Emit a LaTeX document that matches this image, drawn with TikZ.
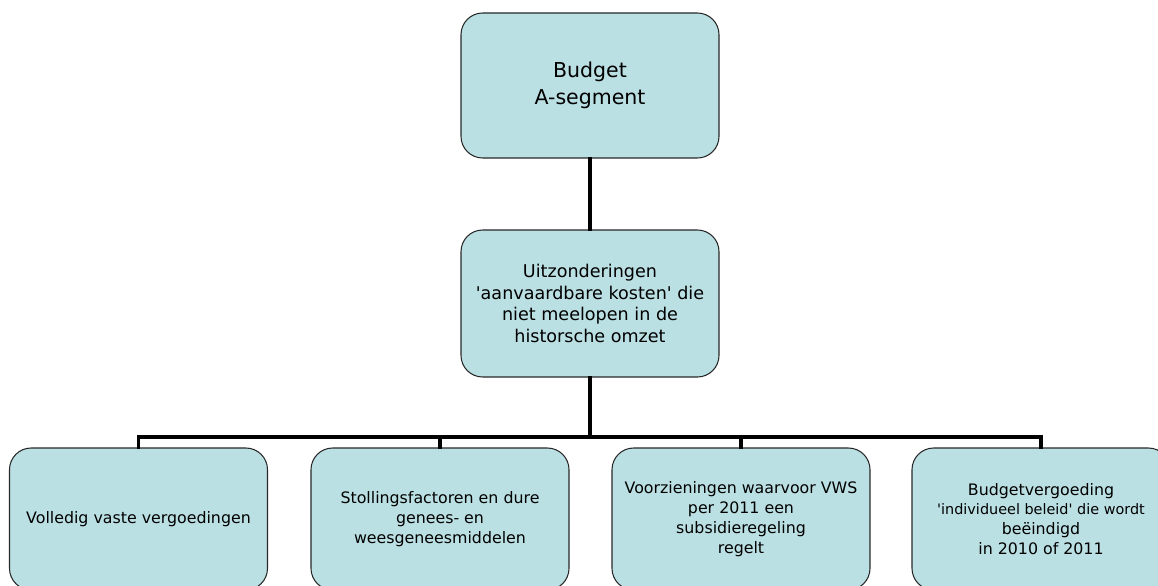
\documentclass[tikz,border=0pt]{standalone}
\usepackage{fontspec}
\setmainfont{DejaVu Sans}
\definecolor{boxblue}{RGB}{187,224,227}
\definecolor{boxline}{RGB}{40,40,40}
\newcommand{\sq}{\textquotesingle}
\tikzset{
    box/.style={draw=boxline, fill=boxblue, line width=0.9pt, rounded corners=0.65cm,
        minimum width=7.74cm, align=center, inner sep=2pt},
    bus/.style={line width=3.2pt, line cap=rect}
}
\begin{document}
\begin{tikzpicture}[x=0.03cm, y=-0.03cm]
            \clip (0,0) rectangle (1158,585);
            \useasboundingbox (0,0) rectangle (1158,585);

            \node[box, minimum height=4.35cm, font=\fontsize{17.5}{23}\selectfont] (top) at (590,85.5) {Budget\\A-segment};
            \node[box, minimum height=4.41cm, font=\fontsize{15}{18.5}\selectfont] (mid) at (590,303.5)
                {Uitzonderingen\\\sq aanvaardbare kosten\sq{} die\\niet meelopen in de\\historsche omzet};

            \node[box, minimum height=4.26cm, font=\fontsize{13.5}{17}\selectfont] (vast) at (138.5,519) {Volledig vaste vergoedingen};
            \node[box, minimum height=4.26cm, font=\fontsize{13.5}{17}\selectfont] (stol) at (440,519)
                {Stollingsfactoren en dure\\genees- en\\weesgeneesmiddelen};
            \node[box, minimum height=4.26cm, font=\fontsize{13.5}{17}\selectfont] (vws) at (741,519)
                {Voorzieningen waarvoor VWS\\per 2011 een\\subsidieregeling\\regelt};
            \node[box, minimum height=4.26cm, font=\fontsize{13.5}{17}\selectfont] (indiv) at (1041,519)
                {Budgetvergoeding\\{\fontsize{12.3}{17}\selectfont\sq individueel beleid\sq{} die wordt}\\beëindigd\\in 2010 of 2011};

            \coordinate (split) at (590,437);
            \draw[bus] (top) -- (mid);
            \draw[bus] (mid) -- (split);
            \draw[bus] (vast.north) |- (split) -| (indiv.north);
            \draw[bus] (stol.north) |- (split);
            \draw[bus] (vws.north) |- (split);
        \end{tikzpicture}
\end{document}
